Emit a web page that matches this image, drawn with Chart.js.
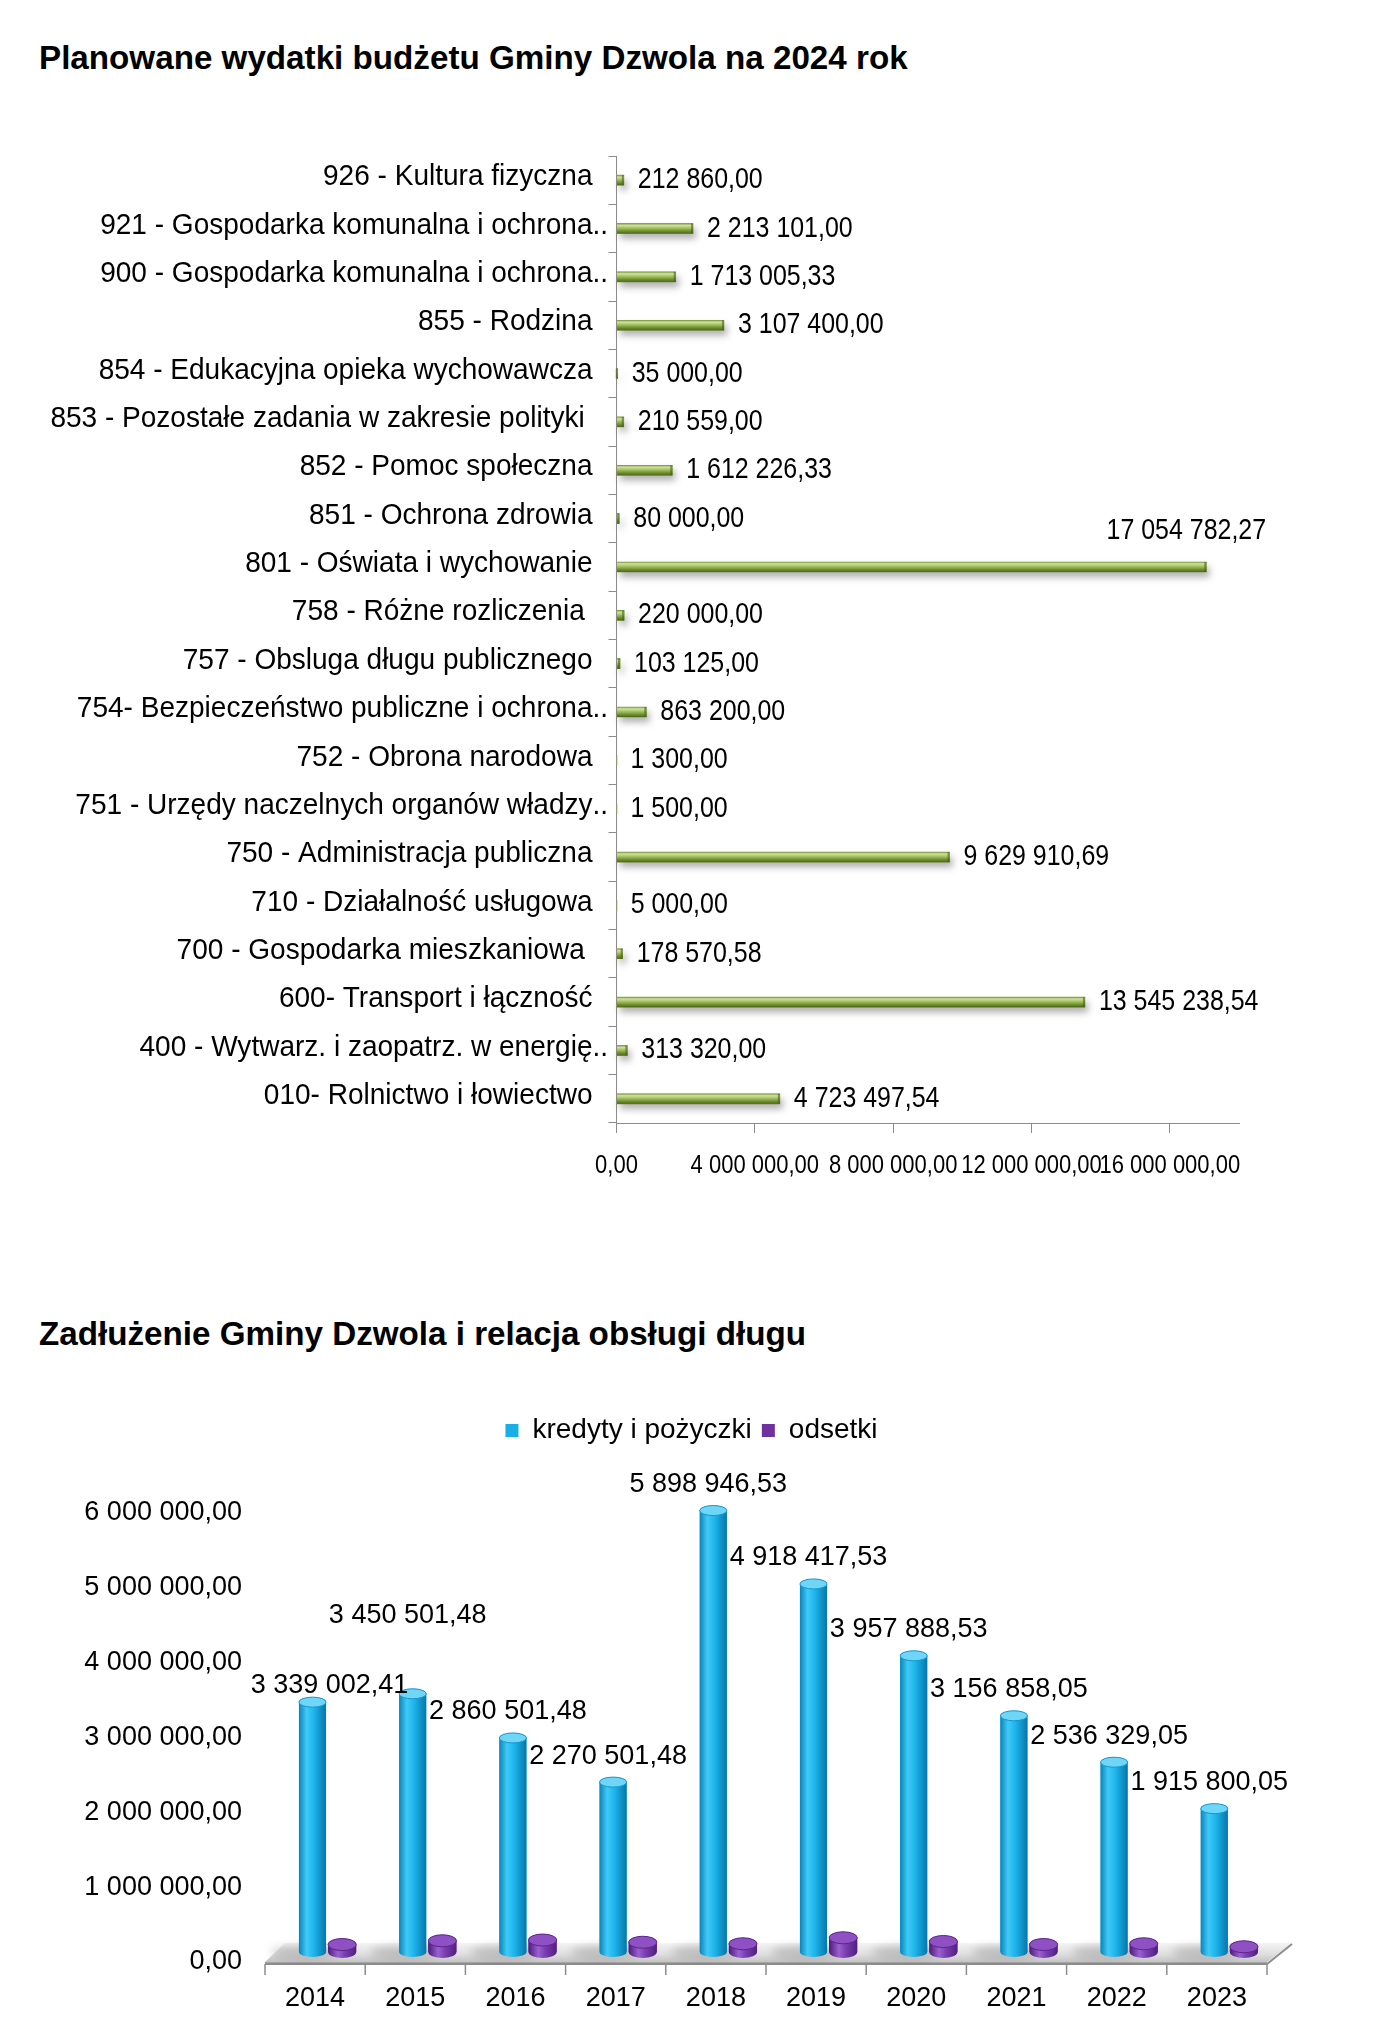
<!DOCTYPE html>
<html><head><meta charset="utf-8">
<script src="https://cdn.jsdelivr.net/npm/chart.js@4"></script>
<style>
html,body{margin:0;padding:0;background:#fff;}
body{width:1383px;height:2027px;position:relative;overflow:hidden;font-family:'Liberation Sans',Arial,sans-serif;}
.title{position:absolute;left:39px;font-weight:bold;font-size:33.2px;line-height:1;color:#000;white-space:nowrap;}
canvas{position:absolute;left:0;}
#c1{top:100px;}
#c2{top:1390px;}
</style></head><body>
<canvas id="c1" width="1383" height="1110"></canvas>
<canvas id="c2" width="1383" height="637"></canvas>
<div class="title" style="top:41px">Planowane wydatki budżetu Gminy Dzwola na 2024 rok</div>
<div class="title" style="top:1317px">Zadłużenie Gminy Dzwola i relacja obsługi długu</div>
<script>
// ---------- data: chart 1 ----------
const budgetCategories = [
  "926 - Kultura fizyczna",
  "921 - Gospodarka komunalna i ochrona..",
  "900 - Gospodarka komunalna i ochrona..",
  "855 - Rodzina",
  "854 - Edukacyjna opieka wychowawcza",
  "853 - Pozostałe zadania w zakresie polityki ",
  "852 - Pomoc społeczna",
  "851 - Ochrona zdrowia",
  "801 - Oświata i wychowanie",
  "758 - Różne rozliczenia ",
  "757 - Obsluga długu publicznego",
  "754- Bezpieczeństwo publiczne i ochrona..",
  "752 - Obrona narodowa",
  "751 - Urzędy naczelnych organów władzy..",
  "750 - Administracja publiczna",
  "710 - Działalność usługowa",
  "700 - Gospodarka mieszkaniowa ",
  "600- Transport i łączność",
  "400 - Wytwarz. i zaopatrz. w energię..",
  "010- Rolnictwo i łowiectwo"
];
const budgetValues = [
  212860.00, 2213101.00, 1713005.33, 3107400.00, 35000.00,
  210559.00, 1612226.33, 80000.00, 17054782.27, 220000.00,
  103125.00, 863200.00, 1300.00, 1500.00, 9629910.69,
  5000.00, 178570.58, 13545238.54, 313320.00, 4723497.54
];
const budgetAxisMin = 0;
const budgetAxisMax = 18000000;
const budgetTickValues = [0, 4000000, 8000000, 12000000, 16000000];

// ---------- data: chart 2 ----------
const debtYears = ["2014","2015","2016","2017","2018","2019","2020","2021","2022","2023"];
const debtLoans = [3339002.41, 3450501.48, 2860501.48, 2270501.48, 5898946.53,
                   4918417.53, 3957888.53, 3156858.05, 2536329.05, 1915800.05];
const debtInterest = [100000, 150000, 160000, 130000, 110000, 190000, 140000, 100000, 110000, 70000];
const debtSeriesNames = ["kredyty i pożyczki", "odsetki"];
const debtAxisMin = 0;
const debtAxisMax = 6000000;
const debtAxisStep = 1000000;

// label nudges (style only)
const debtLabelNudgeX = [22,0,0,0,0,0,0,0,0,0];
const debtLabelNudgeY = [9,-52,0,0,0,0,0,0,0,0];

const FONT = "'Liberation Sans', Arial, sans-serif";
Chart.defaults.font.family = FONT;
Chart.defaults.color = '#000';

function fmt(v){
  const parts = Number(v).toFixed(2).split('.');
  return parts[0].replace(/\B(?=(\d{3})+(?!\d))/g, ' ') + ',' + parts[1];
}

// draw horizontally condensed text
function condText(ctx, txt, x, y, sx, align){
  ctx.save();
  ctx.translate(x, y);
  ctx.scale(sx, 1);
  ctx.textAlign = align;
  ctx.fillText(txt, 0, 0);
  ctx.restore();
}

// ---------- chart 1 plugin ----------
const CAT_SX = 0.95, VAL_SX = 0.86, TICK_SX = 0.88;
const budgetPlugin = {
  id: 'budgetDecor',
  afterDatasetsDraw(chart){
    const ctx = chart.ctx;
    const meta = chart.getDatasetMeta(0);
    meta.data.forEach((el) => {
      const h = el.height;
      const x0 = Math.min(el.base, el.x), x1 = Math.max(el.base, el.x);
      const top = el.y - h/2;
      if (x1 - x0 < 0.6) return;
      ctx.save();
      ctx.shadowColor = 'rgba(0,0,0,0.32)';
      ctx.shadowBlur = 7; ctx.shadowOffsetX = 3; ctx.shadowOffsetY = 5;
      ctx.fillStyle = '#7d9b3c';
      ctx.fillRect(x0, top, x1 - x0, h);
      ctx.restore();
      const g = ctx.createLinearGradient(0, top, 0, top + h);
      g.addColorStop(0, '#7c9a3a');
      g.addColorStop(0.18, '#cfe2a0');
      g.addColorStop(0.42, '#a8c566');
      g.addColorStop(0.75, '#6f8f2e');
      g.addColorStop(1, '#4c6719');
      ctx.fillStyle = g;
      ctx.fillRect(x0, top, x1 - x0, h);
      ctx.fillStyle = 'rgba(70,95,25,0.6)';
      ctx.fillRect(x1 - 2, top, 2, h);
    });
    ctx.save();
    ctx.font = "29px " + FONT;
    ctx.fillStyle = '#000';
    ctx.textBaseline = 'middle';
    meta.data.forEach((el, i) => {
      const txt = fmt(budgetValues[i]);
      const w = ctx.measureText(txt).width * VAL_SX;
      const x = el.x + 14;
      if (x + w > chart.width - 20) {
        condText(ctx, txt, el.x - 20, el.y - 36, VAL_SX, 'center');
      } else {
        condText(ctx, txt, x, el.y, VAL_SX, 'left');
      }
    });
    ctx.restore();
  },
  afterDraw(chart){
    const ctx = chart.ctx;
    const ys = chart.scales.y, xs = chart.scales.x;
    const xr = chart.chartArea.left - 24;
    ctx.save();
    ctx.font = "29.5px " + FONT;
    ctx.fillStyle = '#000';
    ctx.textBaseline = 'middle';
    chart.data.labels.forEach((lab, i) => {
      const y = ys.getPixelForTick(i) - 3;
      let main = lab, tail = '';
      if (lab.endsWith('..')) { main = lab.slice(0, -2); tail = '..'; }
      condText(ctx, main, xr, y, CAT_SX, 'right');
      if (tail) condText(ctx, tail, xr, y, CAT_SX, 'left');
    });
    // x tick labels
    ctx.font = "25px " + FONT;
    budgetTickValues.forEach(v => {
      condText(ctx, fmt(v), xs.getPixelForValue(v), chart.chartArea.bottom + 43, TICK_SX, 'center');
    });
    ctx.restore();
  }
};

new Chart(document.getElementById('c1'), {
  type: 'bar',
  data: {
    labels: budgetCategories,
    datasets: [{ data: budgetValues, backgroundColor: '#8fb04a', barThickness: 10 }]
  },
  options: {
    indexAxis: 'y',
    responsive: false,
    animation: false,
    layout: { padding: { top: 56, right: 144, left: 0, bottom: 0 } },
    plugins: { legend: { display: false }, tooltip: { enabled: false } },
    scales: {
      x: {
        min: budgetAxisMin, max: budgetAxisMax,
        afterBuildTicks: (s) => { s.ticks = budgetTickValues.map(v => ({ value: v })); },
        grid: { display: true, drawOnChartArea: false, drawTicks: true, tickLength: 10, color: '#8c8c8c' },
        border: { display: true, color: '#8c8c8c' },
        ticks: { display: false },
        afterFit: (s) => { s.height = 87; }
      },
      y: {
        grid: { display: true, drawOnChartArea: false, drawTicks: true, tickLength: 8, color: '#8c8c8c', offset: true },
        border: { display: true, color: '#8c8c8c' },
        ticks: { display: false },
        afterFit: (s) => { s.width = 616.5; }
      }
    }
  },
  plugins: [budgetPlugin]
});

// ---------- chart 2 plugin ----------
function cylinder(ctx, cx, w, top, base, eh, stops, capFill, capStroke){
  const g = ctx.createLinearGradient(cx - w/2, 0, cx + w/2, 0);
  stops.forEach(s => g.addColorStop(s[0], s[1]));
  ctx.fillStyle = g;
  ctx.beginPath();
  ctx.moveTo(cx - w/2, top);
  ctx.lineTo(cx - w/2, base);
  ctx.ellipse(cx, base, w/2, eh/2, 0, Math.PI, 0, true);
  ctx.lineTo(cx + w/2, top);
  ctx.ellipse(cx, top, w/2, eh/2, 0, 0, Math.PI, true);
  ctx.closePath();
  ctx.fill();
  ctx.beginPath();
  ctx.ellipse(cx, top, w/2, eh/2, 0, 0, Math.PI * 2);
  ctx.fillStyle = capFill;
  ctx.fill();
  ctx.strokeStyle = capStroke;
  ctx.lineWidth = 1;
  ctx.stroke();
}

const debtPlugin = {
  id: 'debtDecor',
  beforeDatasetsDraw(chart){
    const ctx = chart.ctx, a = chart.chartArea, xs = chart.scales.x;
    const yF = a.bottom + 10, yB = yF - 19, dx = 25;
    ctx.save();
    const g = ctx.createLinearGradient(0, yB, 0, yF);
    g.addColorStop(0, '#f4f4f4');
    g.addColorStop(0.6, '#dedede');
    g.addColorStop(1, '#c4c4c4');
    ctx.fillStyle = g;
    ctx.beginPath();
    ctx.moveTo(a.left, yF);
    ctx.lineTo(a.right, yF);
    ctx.lineTo(a.right + dx, yB);
    ctx.lineTo(a.left + 20, yB);
    ctx.closePath();
    ctx.fill();
    ctx.fillStyle = '#a6a6a6';
    ctx.fillRect(a.left, yF, a.right - a.left, 3);
    ctx.strokeStyle = '#8c8c8c';
    ctx.lineWidth = 2;
    ctx.beginPath();
    ctx.moveTo(a.left, yF + 2); ctx.lineTo(a.right, yF + 2);
    ctx.lineTo(a.right + dx, yB + 1);
    ctx.stroke();
    const n = chart.data.labels.length;
    const step = xs.getPixelForTick(1) - xs.getPixelForTick(0);
    ctx.lineWidth = 1.5;
    for (let i = 0; i <= n; i++) {
      const x = (i < n ? xs.getPixelForTick(i) : xs.getPixelForTick(n - 1) + step) - step / 2;
      ctx.beginPath(); ctx.moveTo(x, yF + 2); ctx.lineTo(x, yF + 13); ctx.stroke();
    }
    const m0 = chart.getDatasetMeta(0);
    ctx.filter = 'blur(4px)';
    ctx.fillStyle = 'rgba(0,0,0,0.16)';
    m0.data.forEach(el => {
      ctx.beginPath();
      ctx.ellipse(el.x - 8, el.base, 34, 7, 0, 0, Math.PI * 2);
      ctx.fill();
    });
    ctx.restore();
  },
  afterDatasetsDraw(chart){
    const ctx = chart.ctx;
    const m0 = chart.getDatasetMeta(0), m1 = chart.getDatasetMeta(1);
    ctx.save();
    m0.data.forEach(el => {
      cylinder(ctx, el.x, el.width, el.y, el.base, 10,
        [[0,'#0a84bb'],[0.28,'#3fcaf6'],[0.55,'#1db5ec'],[1,'#0676aa']], '#6fd6f7', '#1798cc');
    });
    m1.data.forEach(el => {
      cylinder(ctx, el.x, el.width, el.y, el.base, 12,
        [[0,'#4e1a7a'],[0.35,'#9a60cf'],[0.6,'#7a3db0'],[1,'#51207d']], '#8e50c3', '#5e2590');
    });
    ctx.font = "27px " + FONT;
    ctx.fillStyle = '#000';
    ctx.textAlign = 'center';
    ctx.textBaseline = 'middle';
    m0.data.forEach((el, i) => {
      ctx.fillText(fmt(debtLoans[i]), el.x - 5 + debtLabelNudgeX[i], el.y - 26 + debtLabelNudgeY[i]);
    });
    ctx.restore();
  }
};

new Chart(document.getElementById('c2'), {
  type: 'bar',
  data: {
    labels: debtYears,
    datasets: [
      { label: debtSeriesNames[0], data: debtLoans, xAxisID: 'x', yAxisID: 'y',
        backgroundColor: '#1aaee6', borderColor: '#0a86bd', borderWidth: 0,
        categoryPercentage: 0.104, barPercentage: 5.2 },
      { label: debtSeriesNames[1], data: debtInterest, xAxisID: 'x', yAxisID: 'y',
        backgroundColor: '#7030a0', borderColor: '#4e1a7a', borderWidth: 0,
        categoryPercentage: 1.08, barPercentage: 0.52 }
    ]
  },
  options: {
    responsive: false,
    animation: false,
    layout: { padding: { top: 16.5, right: 0, left: 0, bottom: 0 } },
    plugins: {
      legend: { display: true, position: 'top',
        labels: { boxWidth: 13, boxHeight: 13, padding: 10, color: '#000', font: { size: 28 } } },
      tooltip: { enabled: false }
    },
    scales: {
      x: {
        grid: { display: false, drawTicks: false },
        border: { display: false },
        ticks: { padding: 30, color: '#000', font: { size: 27 }, autoSkip: false, maxRotation: 0, minRotation: 0 },
        afterFit: (s) => { s.height = 75; }
      },
      gap: {
        type: 'category', position: 'top', display: true,
        grid: { display: false, drawTicks: false }, border: { display: false },
        ticks: { display: false },
        afterFit: (s) => { s.height = 48.5; }
      },
      rgap: {
        type: 'linear', position: 'right', display: true,
        grid: { display: false, drawTicks: false }, border: { display: false },
        ticks: { display: false },
        afterFit: (s) => { s.width = 116; }
      },
      y: {
        min: debtAxisMin, max: debtAxisMax,
        grid: { display: false, drawTicks: false },
        border: { display: false },
        ticks: { stepSize: debtAxisStep, padding: 23, labelOffset: 10, color: '#000', font: { size: 27 },
                 callback: (v) => fmt(v) },
        afterFit: (s) => { s.width = 265; }
      }
    }
  },
  plugins: [debtPlugin]
});
</script>
</body></html>
